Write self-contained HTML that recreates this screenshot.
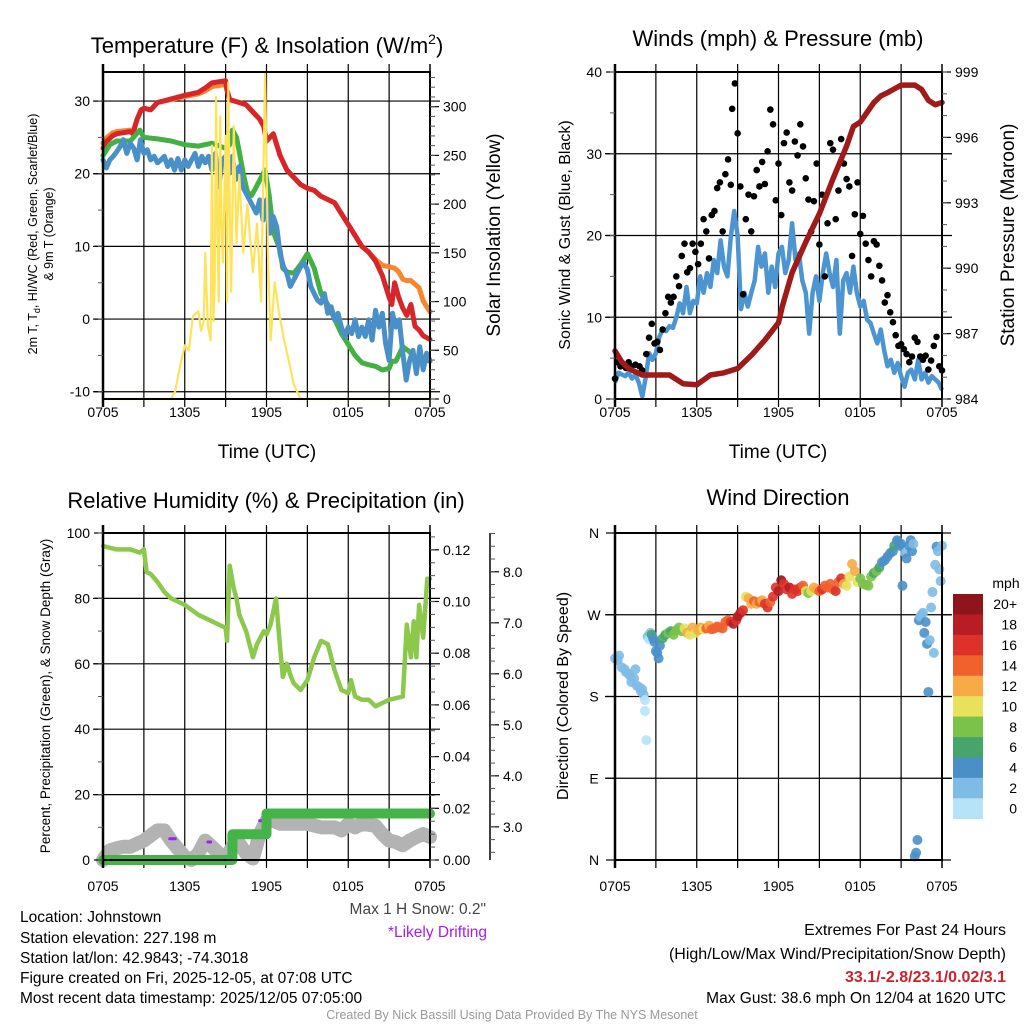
<!DOCTYPE html>
<html><head><meta charset="utf-8">
<style>
html,body{margin:0;padding:0;background:#fff;}
svg{display:block;font-family:"Liberation Sans",Arial,sans-serif;}
</style></head>
<body>
<svg id="chart" width="1024" height="1024" viewBox="0 0 1024 1024" xmlns="http://www.w3.org/2000/svg">
<rect width="1024" height="1024" fill="#fff"/>
<g id="p1"></g>
<g id="p2"></g>
<g id="p3"></g>
<g id="p4"></g>

<text x="267" y="53" font-size="22" text-anchor="middle">Temperature (F) &amp; Insolation (W/m<tspan font-size="14" dy="-9">2</tspan><tspan dy="9">)</tspan></text>
<text x="778" y="46" font-size="22" text-anchor="middle">Winds (mph) &amp; Pressure (mb)</text>
<text x="266" y="508" font-size="22" text-anchor="middle">Relative Humidity (%) &amp; Precipitation (in)</text>
<text x="778" y="505" font-size="22" text-anchor="middle">Wind Direction</text>

<text x="267" y="458" font-size="19" text-anchor="middle">Time (UTC)</text>
<text x="778" y="458" font-size="19" text-anchor="middle">Time (UTC)</text>

<text transform="translate(37,234) rotate(-90)" font-size="12.5" text-anchor="middle">2m T, T<tspan font-size="9" dy="3">d</tspan><tspan dy="-3">, HI/WC (Red, Green, Scarlet/Blue)</tspan></text>
<text transform="translate(53,234) rotate(-90)" font-size="12.5" text-anchor="middle">&amp; 9m T (Orange)</text>
<text transform="translate(500,235) rotate(-90)" font-size="19" text-anchor="middle">Solar Insolation (Yellow)</text>
<text transform="translate(570,235) rotate(-90)" font-size="16" text-anchor="middle">Sonic Wind &amp; Gust (Blue, Black)</text>
<text transform="translate(1014,235) rotate(-90)" font-size="19" text-anchor="middle">Station Pressure (Maroon)</text>
<text transform="translate(50,696) rotate(-90)" font-size="13.5" text-anchor="middle">Percent, Precipitation (Green), &amp; Snow Depth (Gray)</text>
<text transform="translate(568,696) rotate(-90)" font-size="16" text-anchor="middle">Direction (Colored By Speed)</text>

<g font-size="15.5">
<text x="20" y="922">Location: Johnstown</text>
<text x="20" y="943">Station elevation: 227.198 m</text>
<text x="20" y="963">Station lat/lon: 42.9843; -74.3018</text>
<text x="20" y="983">Figure created on Fri, 2025-12-05, at 07:08 UTC</text>
<text x="20" y="1003">Most recent data timestamp: 2025/12/05 07:05:00</text>
</g>
<text x="486" y="914" font-size="15.5" fill="#444" text-anchor="end">Max 1 H Snow: 0.2"</text>
<text x="487" y="937" font-size="15.5" fill="#a020f0" text-anchor="end">*Likely Drifting</text>
<g font-size="16" text-anchor="end">
<text x="1006" y="935">Extremes For Past 24 Hours</text>
<text x="1006" y="959">(High/Low/Max Wind/Precipitation/Snow Depth)</text>
<text x="1006" y="982" fill="#d0202a" font-weight="bold">33.1/-2.8/23.1/0.02/3.1</text>
<text x="1006" y="1003" font-size="15.5">Max Gust: 38.6 mph On 12/04 at 1620 UTC</text>
</g>
<text x="512" y="1019" font-size="12.5" fill="#999" text-anchor="middle">Created By Nick Bassill Using Data Provided By The NYS Mesonet</text>
</svg>
<script>
// ---------- DATA ----------
const xTickLabels = ["0705","1305","1905","0105","0705"];
const quarterHours = [0,0.25,0.5,0.75,1,1.25,1.5,1.75,2,2.25,2.5,2.75,3,3.25,3.5,3.75,4,4.25,4.5,4.75,5,5.25,5.5,5.75,6,6.25,6.5,6.75,7,7.25,7.5,7.75,8,8.25,8.5,8.75,9,9.25,9.5,9.75,10,10.25,10.5,10.75,11,11.25,11.5,11.75,12,12.25,12.5,12.75,13,13.25,13.5,13.75,14,14.25,14.5,14.75,15,15.25,15.5,15.75,16,16.25,16.5,16.75,17,17.25,17.5,17.75,18,18.25,18.5,18.75,19,19.25,19.5,19.75,20,20.25,20.5,20.75,21,21.25,21.5,21.75,22,22.25,22.5,22.75,23,23.25,23.5,23.75,24];
// Temperature panel
const tempHours = [0,0.3,0.7,1,2,2.2,2.5,2.8,3,3.5,4,5,6,7,7.5,8,9,9.1,9.3,10,10.5,11,11.5,11.8,12,12.5,13,13.5,14,14.5,15,15.5,16,17,17.5,18,18.5,19,19.5,20,20.5,21,21.2,21.4,21.7,22,22.3,22.6,22.9,23.2,23.5,24];
const tempRed   = [23.5,24.5,25.2,25.5,25.8,25.5,27.5,28.8,29,28.8,29.8,30.3,30.8,31.2,31.8,32.5,32.8,31.5,30.2,29.8,29.5,28.5,27.5,26.5,24.5,25.5,22.5,20.5,19.5,18.5,18,17.7,16.9,16,14.5,13,11.5,10,9.2,8,6,3,2,5,3,1.5,0.5,2,-1,-1.5,-2.3,-2.8];
const temp9m    = [24.2,25,25.6,25.8,26,25.8,27.5,28.8,29,28.8,29.8,30.2,30.6,31,31.4,32,32.3,31.5,30.2,29.8,29.5,28.5,27.5,26.5,24.5,25.5,22.5,20.5,19.5,18.5,18,17.7,16.9,16,14.5,13,11.5,10,9.2,8.2,7.4,7.2,7.1,7,6.5,5.5,5.3,5.3,4.8,4.3,2.5,1];
const dewHours  = [0,0.5,1,2,2.7,3,4,5,6,7,8,9,9.3,9.5,9.8,10,10.3,10.6,10.9,11.2,11.6,11.9,12.2,12.5,12.8,13,13.2,13.5,14,14.5,15,15.5,16,16.5,17,17.5,18,18.5,19,19.5,20,20.5,21,21.2,21.5,22,22.5,23,24];
const dewGreen  = [22.5,24,24.5,24.5,26,25,24.8,24.5,24,23.8,24.2,23.5,24,26,25,23,20,17.5,17,18,19.5,20.5,17,12,10.5,9.5,7,6.5,6.3,7.5,9,7,3.5,2,0,-2,-3.5,-5,-6,-6.3,-6.5,-7,-6.8,-5.8,-5.8,-3.8,-4.5,-5.5,-5.8];
const wcBlue = [21.9,20.8,21.9,22.4,23,23.7,24.7,22.8,24.2,23.5,21.9,24.7,22.8,23.3,21.9,22.4,21.5,21.9,22.4,21,21.9,20.5,22.1,20.5,21.9,21,21.9,22.8,21,22.4,21.5,22.4,20.5,22.8,18.2,21.9,22.4,20,22.4,19.2,21,18.2,17.3,16.4,15.5,14.6,16.4,13.6,16.4,11.8,14.1,12.7,9,7.2,6.3,4.5,5.4,6.3,7.2,7.7,6.8,4.5,3.5,2.6,2.2,3.5,0.8,1.7,-0.1,0.8,-1.1,-2.4,-1.1,-2,-0.1,-2.4,-1.1,-2.4,-0.1,-2.9,1.2,-1.1,0.8,-3.4,-5.7,0.8,-1.1,-0.1,-4.7,-8.4,-5.7,-4.3,-7.5,-3.8,-7,-4.7,-5.7];
const solarHours = [0,5,5.3,5.6,6,6.3,6.6,7,7.2,7.4,7.5,7.7,7.9,8,8.1,8.2,8.3,8.4,8.5,8.6,8.7,8.8,9,9.1,9.2,9.3,9.4,9.6,9.8,10,10.3,10.6,11,11.3,11.6,11.9,12.1,12.3,12.6,12.9,13.3,13.7,14,14.5,24];
const solarVals  = [0,0,8,30,55,50,85,90,70,80,150,75,60,260,80,120,310,170,100,290,180,140,270,100,325,200,110,280,160,230,150,200,130,180,100,335,150,60,120,90,60,35,15,0,0];
// Winds panel
const windSonic = [2,3.2,3,2.8,3.2,2.5,3,2,0.3,2.6,5.6,4.8,5.6,7.6,8.5,8.3,8.9,8.7,10,11.7,10.5,13.7,10.5,12,11.7,15,13,15.4,13.7,17,15.4,19.4,16.2,15,19.8,23,20,11,13,11.3,13,14.5,18.6,16.2,17.8,13,16.2,13.7,17.8,18.6,15.4,17,21.5,17,17.8,14.5,13,8,13,15,12,15.4,17.8,15.4,13.7,17,8,14.5,15.4,13,16.2,13,11.3,12,9.7,9.3,8,6.8,8.5,6,4,4.8,3.2,4.4,2.8,1.5,3.2,3.6,2.4,4.8,2.4,3.2,2,2.8,2.4,2,1.1];
const gustHours = [0,0.2,0.4,0.6,0.8,1,1.2,1.5,1.8,2,2.3,2.5,2.7,2.9,3.1,3.3,3.5,3.7,3.9,4.1,4.3,4.5,4.7,4.9,5.1,5.3,5.5,5.7,5.9,6.1,6.3,6.5,6.7,6.9,7.1,7.3,7.5,7.7,7.9,8.1,8.3,8.5,8.6,8.8,9,9.2,9.4,9.6,9.8,10,10.2,10.4,10.6,10.8,11,11.2,11.4,11.6,11.8,12,12.2,12.4,12.6,12.8,13,13.2,13.4,13.6,13.8,14,14.2,14.4,14.6,14.8,15,15.2,15.4,15.6,15.8,16,16.2,16.4,16.6,16.8,17,17.2,17.4,17.6,17.8,18,18.2,18.4,18.6,18.8,19,19.2,19.4,19.6,19.8,20,20.2,20.4,20.6,20.8,21,21.2,21.4,21.6,21.8,22,22.2,22.4,22.6,22.8,23,23.2,23.4,23.6,23.8,24];
const gustVals  = [2.5,4.5,4,4.2,3.8,4.5,4,4.2,4,3.5,5.5,7.5,9.2,6.8,7,6,8.5,10.5,12.5,11.8,12.5,15,13.8,17.5,19,15.5,16,19,18,16.5,19,22,20.5,17.2,22.5,23,25.8,26.5,20.5,27.5,29.3,26.2,35.5,38.6,32.5,26,12.8,22,25,20.5,24.8,28,26,29,26.3,30.3,35.4,33.6,24.3,28.8,22.5,31.3,32.6,26.5,25.5,31.5,29.8,33.6,30.9,27,24.4,20.5,24.2,28.8,18.9,25,15,21.5,31.3,30.5,22,25.5,31.8,28.8,26.9,26,17.5,22.6,26.5,20.2,22.4,19,17,15,19.3,18.9,16.3,14.5,11.8,12.7,10.6,9.4,7.8,6.5,6.7,6.1,5.5,4.5,5.2,7.5,7,5.2,4.8,5.3,3.6,4.7,6.5,7.6,4,3.5,3.6,2];
const presHours = [0,0.5,1,2,3,4,5,6,7,8,9,10,11,12,12.3,13,14,15,16,17,17.5,18,19,19.5,20,21,22,22.5,23,23.5,24];
const presVals  = [986.2,985.7,985.4,985.1,985.1,985.1,984.7,984.65,985.1,985.2,985.4,986.0,986.7,987.5,988.3,989.8,991.2,992.5,994.1,995.6,996.5,996.7,997.6,997.9,998.05,998.4,998.4,998.2,997.7,997.5,997.6];
// Humidity panel
const rhHours = [0,1,2,2.7,3,3.2,3.5,4,4.5,5,6,7,8,8.5,9,9.1,9.3,9.6,9.8,10,10.5,11,11.3,11.8,12,12.3,12.7,13,13.2,13.5,13.8,14,14.5,15,15.5,16,16.5,17,17.5,18,18.2,18.5,19,19.5,20,20.5,21,22,22.3,22.6,22.8,23,23.2,23.5,23.8,24];
const rhVals  = [96,95,95,94,95,88,87.5,85,82,80,78,75,73,72,71,67,90,83,80,75,70,62,66,70,69,72,80,65,56,60,56,54,52,55,62,67,66,58,52,51,55,50,49,49,47,48,49,50,72,62,73,62,78,68,86,86];
const precipHours = [0,9.5,9.5,12,12,24];
const precipVals  = [0,0,0.01,0.01,0.018,0.018];
const snowHours = [0,0.5,1,1.5,2,3,4,4.5,5,6,6.5,7,7.5,8,8.5,9,9.5,10,10.5,11,11.5,12,12.5,13,14,15,16,17,17.5,18,18.5,19,20,20.5,21,21.5,22,22.5,23,23.5,24];
const snowVals  = [2.35,2.54,2.58,2.61,2.61,2.73,2.93,2.93,2.73,2.41,2.35,2.48,2.73,2.61,2.48,2.38,2.61,2.67,2.48,2.38,2.86,3.12,3.12,3.06,3.06,3.06,2.99,2.99,2.93,3.06,2.99,3.06,3.02,2.86,2.73,2.70,2.64,2.73,2.80,2.86,2.80];
const driftStart = [4.9,7.7,11.5];
const driftEnd   = [5.3,7.9,11.7];
const driftRH    = [6.5,5.5,12];
// Wind direction panel
const dirHours = [0,0.2,0.3,0.5,0.7,0.8,1,1.1,1.2,1.4,1.5,1.6,1.8,1.9,2,2.1,2.2,2.2,2.3,2.4,2.5,2.6,2.7,2.8,2.9,3,3.1,3.2,3.3,3.5,3.7,3.9,4.1,4.3,4.5,4.7,4.9,5.1,5.3,5.5,5.7,5.9,6.1,6.3,6.5,6.7,6.9,7.1,7.3,7.5,7.7,7.9,8.1,8.3,8.5,8.7,8.9,9,9.2,9.4,9.6,9.8,10,10.2,10.4,10.6,10.8,11,11.2,11.4,11.6,11.8,12,12.2,12.4,12.6,12.8,13,13.2,13.4,13.6,13.8,14,14.2,14.4,14.6,14.8,15,15.2,15.4,15.6,15.8,16,16.2,16.4,16.6,16.8,17,17.2,17.4,17.6,17.8,18,18.2,18.4,18.6,18.8,19,19.2,19.4,19.6,19.8,20,20.2,20.4,20.5,20.7,20.8,20.9,21,21.1,21.3,21.4,21.6,21.7,21.8,21.9,22,22.1,22.2,22.3,22.4,22.5,22.6,22.7,22.8,22.9,23,23.1,23.2,23.3,23.4,23.5,23.6,23.7,23.8,23.9,24];
const dirVals  = [222,220,225,212,210,207,205,203,196,200,210,192,190,186,188,182,176,164,132,246,243,250,248,244,240,230,228,222,236,244,248,250,252,248,253,256,252,255,250,248,256,250,253,256,254,255,258,254,255,257,256,255,262,264,262,260,264,268,272,275,290,288,282,285,282,284,286,282,278,284,290,300,296,308,304,298,300,293,298,296,300,302,296,294,296,300,298,296,298,302,300,304,298,296,306,310,304,302,312,326,318,306,310,304,303,302,312,316,318,322,328,330,334,338,340,346,352,350,346,348,302,338,332,346,352,340,348,4,8,22,264,268,270,272,250,262,238,185,242,278,295,228,325,345,340,320,307,346,24,55,65,80,92,118];
const dirSpeed = [2,2,2,3,2,2,3,2,2,3,2,2,3,2,2,3,1,1,0,2,1,3,6,5,4,5,4,5,5,6,7,8,7,8,9,8,8,11,12,10,12,11,13,12,10,14,13,14,15,14,15,14,14,15,16,19,16,18,19,17,11,12,13,14,12,14,13,17,16,15,17,16,18,20,16,16,18,17,16,16,16,14,10,9,10,12,13,14,16,15,14,15,15,16,15,17,12,11,10,12,13,10,9,9,9,8,8,7,8,6,5,5,4,4,4,7,4,4,5,4,4,3,4,5,4,4,3,4,4,5,4,3,3,2,4,4,4,4,3,3,3,2,3,4,3,3,2,3,3,2,2,1,3,1,2];
const speedLabels = ["20+","18","16","14","12","10","8","6","4","2","0"];
const speedColors = ["#8e161a","#b81c25","#dd3229","#f0612c","#f7aa46","#e8e15b","#7bc24b","#47a56c","#4a90c6","#7ebbe5","#b6e3f8"];

// ---------- HELPERS ----------
const NS = "http://www.w3.org/2000/svg";
function mk(parent, tag, attrs, txt) {
  const e = document.createElementNS(NS, tag);
  for (const k in attrs) e.setAttribute(k, attrs[k]);
  if (txt !== undefined) e.textContent = txt;
  parent.appendChild(e);
  return e;
}
function lin(d0, d1, r0, r1) { return v => r0 + (v - d0) / (d1 - d0) * (r1 - r0); }
function pathFrom(xs, ys, sx, sy) {
  return xs.map((h, i) => (i ? "L" : "M") + sx(h).toFixed(1) + " " + sy(ys[i]).toFixed(1)).join(" ");
}
function frame(g, L, R, T, B, sx, hgrid, sy) {
  for (let h = 3; h < 24; h += 3) {
    const gl = mk(g, "line", {x1: sx(h), x2: sx(h), y1: T - 8, y2: B + 8, stroke: "#000", "stroke-width": 1.2});
    
    
  }
  hgrid.forEach(v => {
    const hl = mk(g, "line", {x1: L - 10, x2: R + 10, y1: sy(v), y2: sy(v), stroke: "#000", "stroke-width": 1.2});
    
    
  });
}
function border(g, L, R, T, B, sx, labelY) {
  const r = mk(g, "rect", {x: L, y: T, width: R - L, height: B - T, fill: "none", stroke: "#000", "stroke-width": 2});
  
  
  mk(g, "line", {x1: L, x2: L, y1: T - 8, y2: B + 8, stroke: "#000", "stroke-width": 2.5});
  mk(g, "line", {x1: R, x2: R, y1: T - 8, y2: B + 8, stroke: "#000", "stroke-width": 1.5});
  xTickLabels.forEach((lab, i) => {
    const t = mk(g, "text", {x: sx(i * 6), y: labelY, "font-size": 14, "text-anchor": "middle"}, lab);
    
    
  });
}
function yAxis(g, x, sy, majors, labels, minorStep, lo, hi, side, T, B) {
  const dir = side === "left" ? -1 : 1;
  majors.forEach((v, i) => {
    mk(g, "line", {x1: x, x2: x + dir * 9, y1: sy(v), y2: sy(v), stroke: "#000", "stroke-width": 1.2});
    const t = mk(g, "text", {x: x + dir * 13, y: sy(v) + 5, "font-size": 14, "text-anchor": side === "left" ? "end" : "start"}, labels[i]);
    
    
  });
  for (let v = lo; v <= hi + 1e-9; v += minorStep) {
    const y = sy(v);
    if (y < T - 0.5 || y > B + 0.5) continue;
    mk(g, "line", {x1: x, x2: x + dir * 5, y1: y, y2: y, stroke: "#555", "stroke-width": 1});
  }
}

// ---------- PANEL 1 ----------
(function () {
  const g = document.getElementById("p1");
  const L = 103, R = 430, T = 72, B = 399;
  const sx = lin(0, 24, L, R), sy = lin(-11, 34, B, T), ss = lin(0, 335.6, B, T);
  frame(g, L, R, T, B, sx, [-10, 0, 10, 20, 30], sy);
  const series = [
    [tempHours, temp9m, "#f7862f", "nine-meter-temp-line"],
    [tempHours, tempRed, "#d7262a", "temperature-line"],
    [quarterHours, wcBlue, "#4a90c8", "wind-chill-line"],
    [dewHours, dewGreen, "#43b043", "dewpoint-line"]
  ];
  [0, 1, 3, 2].forEach(i => {
    const s = series[i];
    const p = mk(g, "path", {d: pathFrom(s[0], s[1], sx, sy), fill: "none", stroke: s[2], "stroke-width": 5, "stroke-linejoin": "round", "stroke-linecap": "round"});
    
    
  });
  const sol = mk(g, "path", {d: pathFrom(solarHours, solarVals, sx, ss), fill: "none", stroke: "#fde35a", "stroke-width": 2.2, "stroke-linejoin": "round"});
  
  
  border(g, L, R, T, B, sx, 417);
  yAxis(g, L, sy, [-10, 0, 10, 20, 30], ["-10", "0", "10", "20", "30"], 5, -10, 34, "left", T, B);
  yAxis(g, R, ss, [0, 50, 100, 150, 200, 250, 300], ["0", "50", "100", "150", "200", "250", "300"], 10, 0, 335, "right", T, B);
})();

// ---------- PANEL 2 ----------
(function () {
  const g = document.getElementById("p2");
  const L = 615, R = 942, T = 72, B = 399;
  const sx = lin(0, 24, L, R), sy = lin(0, 40, B, T), sp = lin(984, 999, B, T);
  frame(g, L, R, T, B, sx, [10, 20, 30], sy);
  const w = mk(g, "path", {d: pathFrom(quarterHours, windSonic, sx, sy), fill: "none", stroke: "#4c95d0", "stroke-width": 4.5, "stroke-linejoin": "round"});
  
  
  gustHours.forEach((h, i) => {
    const c = mk(g, "circle", {cx: sx(h), cy: sy(gustVals[i]), r: 3.3, fill: "#000"});
    
    
  });
  const p = mk(g, "path", {d: pathFrom(presHours, presVals, sx, sp), fill: "none", stroke: "#a01a1a", "stroke-width": 5.5, "stroke-linejoin": "round", "stroke-linecap": "round"});
  
  
  border(g, L, R, T, B, sx, 417);
  yAxis(g, L, sy, [0, 10, 20, 30, 40], ["0", "10", "20", "30", "40"], 5, 0, 40, "left", T, B);
  yAxis(g, R, sp, [984, 987, 990, 993, 996, 999], ["984", "987", "990", "993", "996", "999"], 1, 984, 999, "right", T, B);
})();

// ---------- PANEL 3 ----------
(function () {
  const g = document.getElementById("p3");
  const L = 103, R = 430, T = 533, B = 860;
  const sx = lin(0, 24, L, R), sy = lin(0, 100, B, T), spr = lin(0, 0.1265, B, T), ssn = lin(2.35, 8.76, B, T);
  frame(g, L, R, T, B, sx, [20, 40, 60, 80], sy);
  const sn = mk(g, "path", {d: pathFrom(snowHours, snowVals, sx, ssn), fill: "none", stroke: "#b3b3b3", "stroke-width": 14, "stroke-linejoin": "round", "stroke-linecap": "round"});
  
  
  driftStart.forEach((h, i) => {
    const d = mk(g, "line", {x1: sx(h), x2: sx(driftEnd[i]), y1: sy(driftRH[i]), y2: sy(driftRH[i]), stroke: "#a020f0", "stroke-width": 3, "stroke-linecap": "round"});
    
    
  });
  const pr = mk(g, "path", {d: pathFrom(precipHours, precipVals, sx, spr), fill: "none", stroke: "#44b449", "stroke-width": 10, "stroke-linejoin": "round", "stroke-linecap": "round"});
  
  
  const rh = mk(g, "path", {d: pathFrom(rhHours, rhVals, sx, sy), fill: "none", stroke: "#8cc84b", "stroke-width": 4.5, "stroke-linejoin": "round", "stroke-linecap": "round"});
  
  
  border(g, L, R, T, B, sx, 891);
  yAxis(g, L, sy, [0, 20, 40, 60, 80, 100], ["0", "20", "40", "60", "80", "100"], 10, 0, 100, "left", T, B);
  yAxis(g, R, spr, [0, 0.02, 0.04, 0.06, 0.08, 0.10, 0.12], ["0.00", "0.02", "0.04", "0.06", "0.08", "0.10", "0.12"], 0.005, 0, 0.126, "right", T, B);
  mk(g, "line", {x1: 490, x2: 490, y1: T, y2: B, stroke: "#000", "stroke-width": 1.5});
  yAxis(g, 490, ssn, [3, 4, 5, 6, 7, 8], ["3.0", "4.0", "5.0", "6.0", "7.0", "8.0"], 0.25, 2.5, 8.75, "right", T, B);
})();

// ---------- PANEL 4 ----------
(function () {
  const g = document.getElementById("p4");
  const L = 615, R = 942, T = 533, B = 860;
  const sx = lin(0, 24, L, R), sy = lin(0, 360, B, T);
  frame(g, L, R, T, B, sx, [90, 180, 270], sy);
  dirHours.forEach((h, i) => {
    const bin = Math.min(10, Math.floor(dirSpeed[i] / 2));
    const c = mk(g, "circle", {cx: sx(h), cy: sy(dirVals[i]), r: 5, fill: speedColors[10 - bin], "fill-opacity": 0.9});
    
    
  });
  border(g, L, R, T, B, sx, 891);
  const dl = ["N", "E", "S", "W", "N"];
  [0, 90, 180, 270, 360].forEach((v, i) => {
    mk(g, "line", {x1: L, x2: L - 9, y1: sy(v), y2: sy(v), stroke: "#000", "stroke-width": 1.2});
    mk(g, "line", {x1: R, x2: R + 9, y1: sy(v), y2: sy(v), stroke: "#000", "stroke-width": 1.2});
    const t = mk(g, "text", {x: L - 21, y: sy(v) + 5, "font-size": 14, "text-anchor": "middle"}, dl[i]);
    
    
  });
  const cbT = 594, cbH = 20.43;
  speedLabels.forEach((lab, i) => {
    const r = mk(g, "rect", {x: 953, y: cbT + i * cbH, width: 30, height: cbH + 0.3, fill: speedColors[i]});
    
    
    const t = mk(g, "text", {x: 1017, y: cbT + i * cbH + cbH / 2 + 5, "font-size": 14, "text-anchor": "end"}, lab);
    
    
  });
  const m = mk(g, "text", {x: 1006, y: 588, "font-size": 14, "text-anchor": "middle"}, "mph");
  
  
})();
</script>
</body></html>
